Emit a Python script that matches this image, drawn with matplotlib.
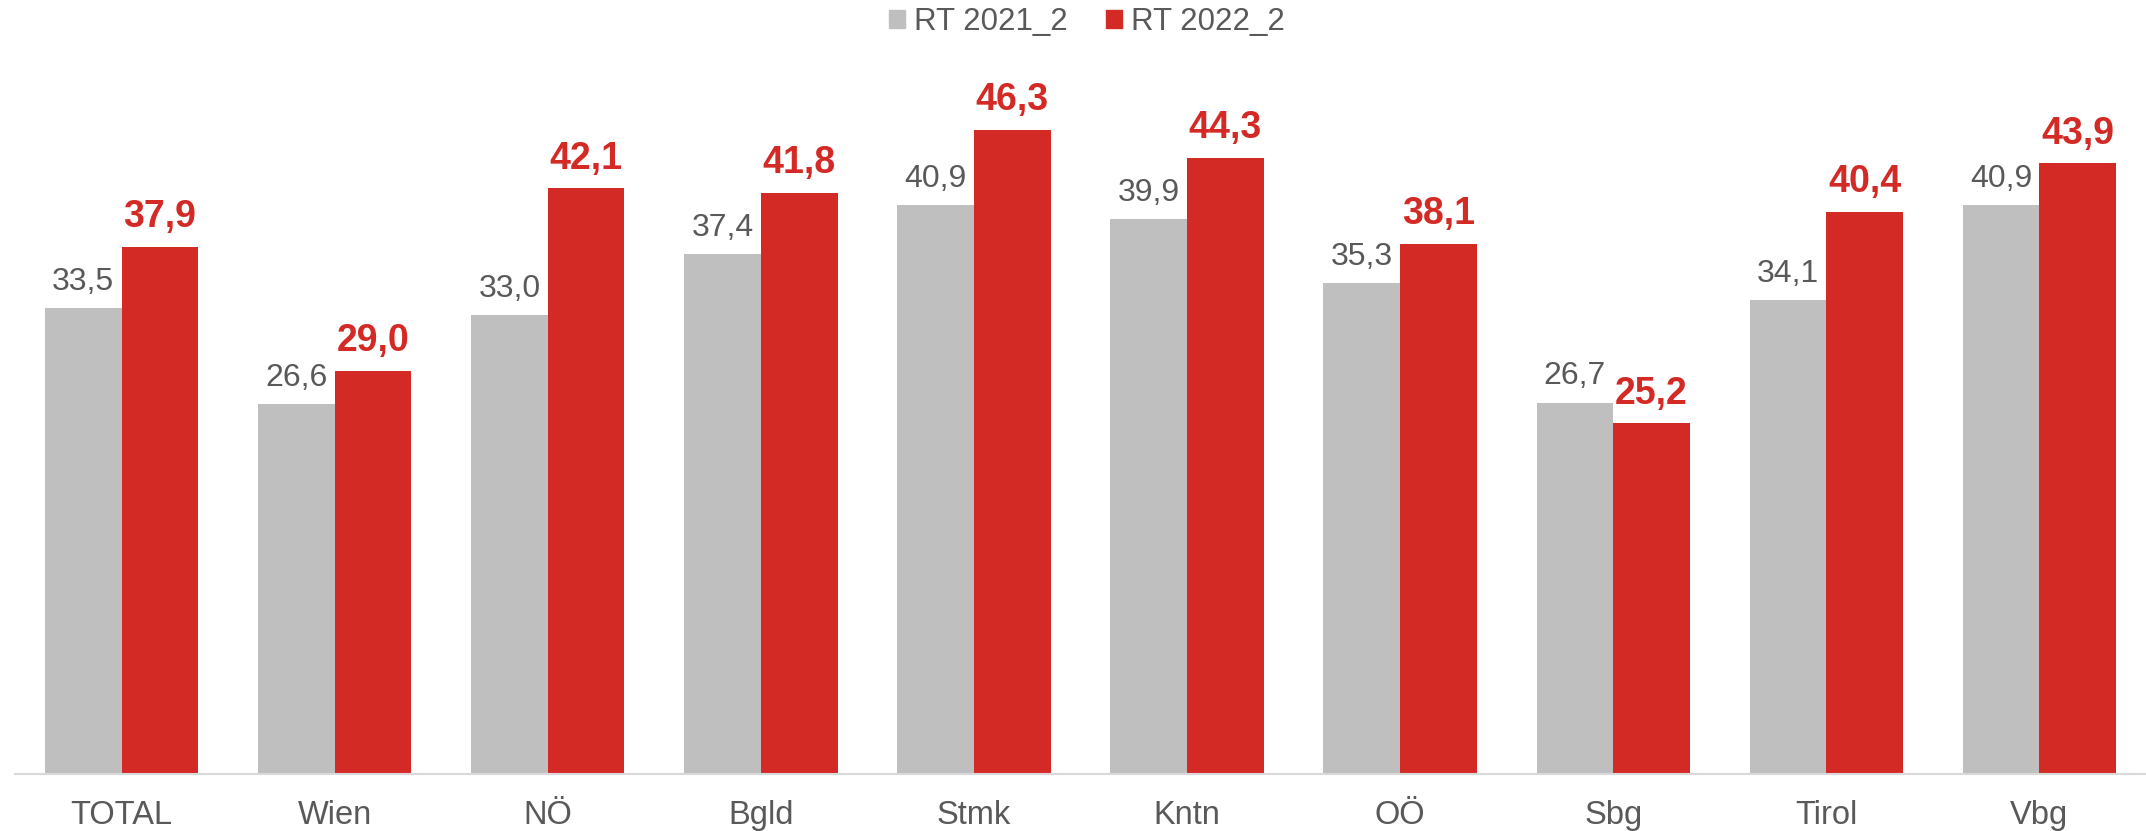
import numpy as np
import matplotlib
matplotlib.use("Agg")
import matplotlib.pyplot as plt
from matplotlib.patches import Patch

plt.rcParams['font.family'] = ['Liberation Sans', 'DejaVu Sans']

categories = ["TOTAL", "Wien", "NÖ", "Bgld", "Stmk", "Kntn", "OÖ", "Sbg", "Tirol", "Vbg"]
rt_2021 = [33.5, 26.6, 33.0, 37.4, 40.9, 39.9, 35.3, 26.7, 34.1, 40.9]
rt_2022 = [37.9, 29.0, 42.1, 41.8, 46.3, 44.3, 38.1, 25.2, 40.4, 43.9]
series_names = ["RT 2021_2", "RT 2022_2"]

gray = "#BFBFBF"
red = "#D42A26"
text_gray = "#595959"

W, H = 2146, 831
fig = plt.figure(figsize=(W / 100, H / 100), dpi=100)
ax = fig.add_axes([15 / W, (H - 774) / H, 2131 / W, 774 / H])

x = np.arange(len(categories))
bw = 0.36
b1 = ax.bar(x - bw / 2, rt_2021, bw, color=gray)
b2 = ax.bar(x + bw / 2, rt_2022, bw, color=red)

for rect, v in zip(b1, rt_2021):
    ax.annotate(f"{v:.1f}".replace(".", ","), (rect.get_x() + rect.get_width() / 2, v),
                xytext=(0, 8), textcoords="offset points", ha="center", va="bottom",
                fontsize=23, color=text_gray)
for rect, v in zip(b2, rt_2022):
    ax.annotate(f"{v:.1f}".replace(".", ","), (rect.get_x() + rect.get_width() / 2, v),
                xytext=(0, 8.5), textcoords="offset points", ha="center", va="bottom",
                fontsize=27, color=red, fontweight="bold")

ax.set_xlim(-0.5, 9.5)
ax.set_ylim(0, 55.64)
ax.set_xticks(x)
ax.set_xticklabels(categories, fontsize=23.5, color=text_gray)
ax.tick_params(axis="x", length=0, pad=19)
ax.set_yticks([])
for s in ["top", "right", "left"]:
    ax.spines[s].set_visible(False)
ax.spines["bottom"].set_color("#D9D9D9")
ax.spines["bottom"].set_linewidth(1.5)

handles = [Patch(color=gray), Patch(color=red)]
leg = fig.legend(handles, series_names, loc="center", bbox_to_anchor=(1087 / W, 1 - 22 / H),
                 ncol=2, frameon=False, fontsize=22.5, handlelength=0.52, handleheight=0.52,
                 handletextpad=0.3, columnspacing=1.2, borderaxespad=0)
for t in leg.get_texts():
    t.set_color(text_gray)

fig.savefig("out.png", dpi=100)
